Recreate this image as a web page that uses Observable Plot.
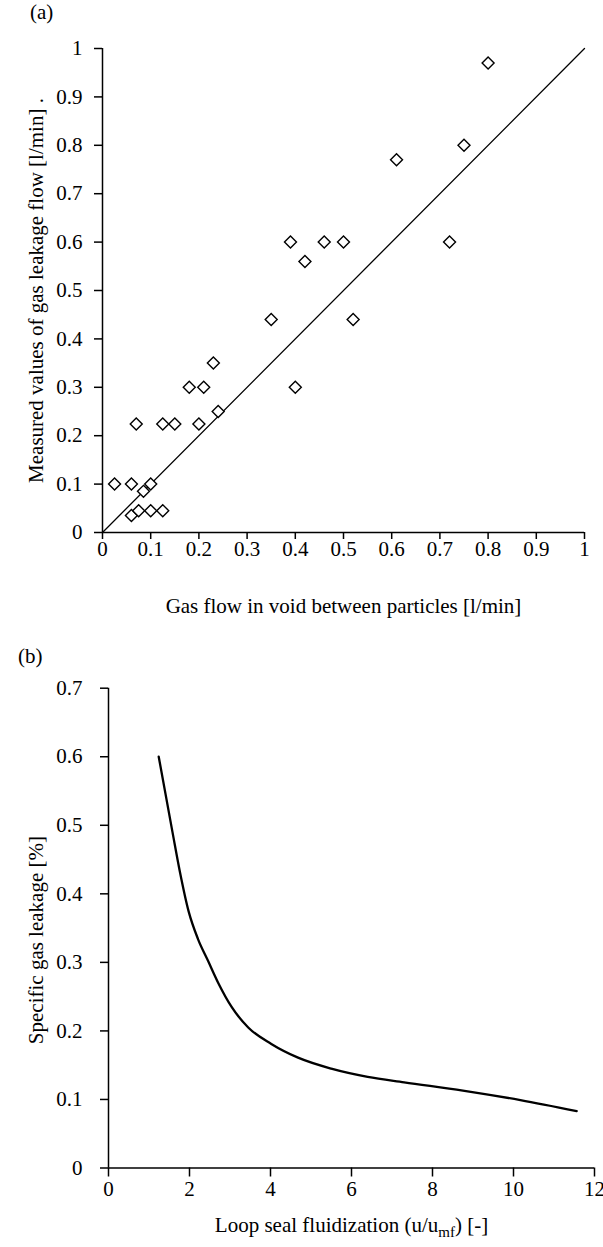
<!DOCTYPE html>
<html><head><meta charset="utf-8">
<script src="https://cdn.jsdelivr.net/npm/d3@7"></script>
<script src="https://cdn.jsdelivr.net/npm/@observablehq/plot@0.6"></script>
<style>
body{margin:0;background:#fff;}
#wrap{position:relative;width:603px;height:1247px;font-family:"Liberation Serif","Times New Roman",serif;color:#000;}
#wrap svg, #wrap svg text, #wrap svg g {font-family:"Liberation Serif","Times New Roman",serif !important;}
.panel{position:absolute;left:0;}
.tag{position:absolute;font-size:21px;line-height:21px;}
</style></head><body>
<div id="wrap">
 <div class="panel" id="pa" style="top:0"></div>
 <div class="panel" id="pb" style="top:630px"></div>
 <div class="tag" style="left:30px;top:2px">(a)</div>
 <div class="tag" style="left:18px;top:646px">(b)</div>
</div>
<script>
// Panel (a) data
const aPointX = [0.025,0.06,0.1,0.085,0.06,0.075,0.1,0.125,0.07,0.125,0.15,0.2,0.24,0.18,0.21,0.23,0.39,0.46,0.5,0.42,0.35,0.52,0.4,0.8,0.75,0.61,0.72];
const aPointY = [0.1,0.1,0.1,0.085,0.035,0.045,0.045,0.045,0.224,0.224,0.224,0.224,0.25,0.3,0.3,0.35,0.6,0.6,0.6,0.56,0.44,0.44,0.3,0.97,0.8,0.77,0.6];
const aLineX = [0, 1];
const aTicks = [0,0.1,0.2,0.3,0.4,0.5,0.6,0.7,0.8,0.9,1];
const aXTitle = "Gas flow in void between particles [l/min]";
const aYTitle = "Measured values of gas leakage flow [l/min] .";

// Panel (b) data
const bCurveX = [1.24,1.58,1.76,1.98,2.21,2.46,2.71,3.04,3.45,4.02,4.68,5.5,6.4,7.3,8.75,10.17,11.56];
const bCurveY = [0.6,0.49,0.433,0.374,0.334,0.302,0.27,0.235,0.205,0.181,0.161,0.145,0.133,0.125,0.113,0.099,0.083];
const bXTicks = [0,2,4,6,8,10,12];
const bYTicks = [0,0.1,0.2,0.3,0.4,0.5,0.6,0.7];
const bXTitle = "Loop seal fluidization (u/umf) [-]";
const bYTitle = "Specific gas leakage [%]";

const font = "Liberation Serif, Times New Roman, serif";
const fmt = d => String(d);

const aPts = aPointX.map((x, i) => ({x, y: aPointY[i]}));
const plotA = Plot.plot({
  width: 603, height: 630,
  marginTop: 48, marginBottom: 98, marginLeft: 102, marginRight: 19,
  style: {fontFamily: font, fontSize: "21px", color: "#000", background: "transparent", overflow: "visible"},
  x: {domain: [0, 1]}, y: {domain: [0, 1]},
  marks: [
    Plot.ruleX([0], {strokeWidth: 1.5}),
    Plot.ruleY([0], {strokeWidth: 1.5}),
    Plot.axisX({ticks: aTicks, tickFormat: fmt, tickSize: 7, tickPadding: 2, strokeWidth: 1.5, label: null}),
    Plot.axisY({ticks: aTicks, tickFormat: fmt, tickSize: 8, tickPadding: 12, strokeWidth: 1.5, label: null}),
    Plot.line(aLineX, {x: d => d, y: d => d, stroke: "#000", strokeWidth: 1.3}),
    Plot.dot(aPts, {x: "x", y: "y", symbol: "diamond2", r: 5.4, stroke: "#000", strokeWidth: 1.4, fill: "#fff"}),
    Plot.text([aXTitle], {frameAnchor: "bottom", dy: 74, textAnchor: "middle", lineAnchor: "middle", text: d => d}),
    Plot.text([aYTitle], {frameAnchor: "left", dx: -66, rotate: -90, textAnchor: "middle", lineAnchor: "middle", text: d => d})
  ]
});
document.getElementById("pa").appendChild(plotA);

const bPts = bCurveX.map((x, i) => ({x, y: bCurveY[i]}));
const plotB = Plot.plot({
  width: 603, height: 617,
  marginTop: 57.7, marginBottom: 79.5, marginLeft: 108, marginRight: 9,
  style: {fontFamily: font, fontSize: "21px", color: "#000", background: "transparent", overflow: "visible"},
  x: {domain: [0, 12]}, y: {domain: [0, 0.7]},
  marks: [
    Plot.ruleX([0], {strokeWidth: 1.5}),
    Plot.ruleY([0], {strokeWidth: 1.5}),
    Plot.axisX({ticks: bXTicks, tickFormat: fmt, tickSize: 9, tickPadding: 4, strokeWidth: 1.5, label: null}),
    Plot.axisY({ticks: bYTicks, tickFormat: fmt, tickSize: 8, tickPadding: 18, strokeWidth: 1.5, label: null}),
    Plot.line(bPts, {x: "x", y: "y", curve: "monotone-x", stroke: "#000", strokeWidth: 2.3}),
    Plot.text([bXTitle], {frameAnchor: "bottom", dy: 57, textAnchor: "middle", lineAnchor: "middle", text: d => d, className: "xtb"}),
    Plot.text([bYTitle], {frameAnchor: "left", dx: -72, dy: 12, rotate: -90, textAnchor: "middle", lineAnchor: "middle", text: d => d})
  ]
});
document.getElementById("pb").appendChild(plotB);

// subscript "mf" in panel (b) x title
const t = plotB.querySelector("g.xtb text");
if (t) {
  const ns = "http://www.w3.org/2000/svg";
  const full = t.textContent;
  const i = full.indexOf("umf");
  const pre = full.slice(0, i + 1), sub = "mf", post = full.slice(i + 3);
  t.textContent = "";
  const s1 = document.createElementNS(ns, "tspan"); s1.textContent = pre;
  const s2 = document.createElementNS(ns, "tspan"); s2.textContent = sub; s2.setAttribute("dy", "5"); s2.setAttribute("font-size", "15");
  const s3 = document.createElementNS(ns, "tspan"); s3.textContent = post; s3.setAttribute("dy", "-5");
  t.append(s1, s2, s3);
}
</script>
</body></html>
